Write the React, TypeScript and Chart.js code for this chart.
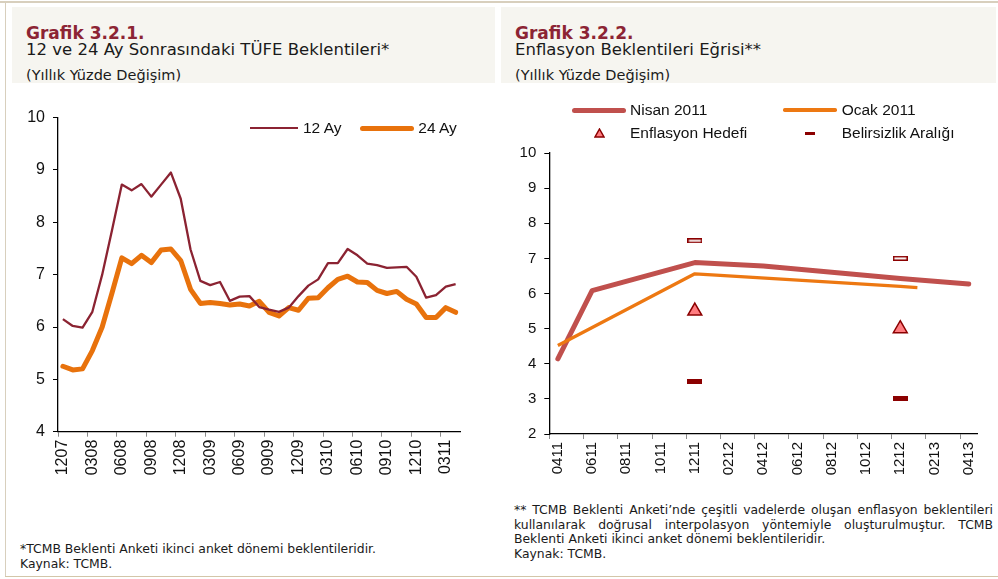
import React, { useEffect, useRef } from "react";
import { Chart, registerables } from "chart.js";
Chart.register(...registerables);

// ---------- Chart 1 data ----------
const months1 = ["1207","0108","0208","0308","0408","0508","0608","0708","0808","0908","1008","1108","1208","0109","0209","0309","0409","0509","0609","0709","0809","0909","1009","1109","1209","0110","0210","0310","0410","0510","0610","0710","0810","0910","1010","1110","1210","0111","0211","0311","0411"];
const ay12 = [6.15,6.02,5.99,6.29,7.0,7.85,8.72,8.61,8.73,8.49,8.72,8.95,8.45,7.48,6.88,6.8,6.86,6.5,6.58,6.59,6.38,6.33,6.29,6.37,6.59,6.79,6.91,7.22,7.22,7.49,7.37,7.21,7.18,7.13,7.14,7.15,6.96,6.56,6.61,6.77,6.82];
const ay24 = [5.25,5.18,5.2,5.55,6.0,6.65,7.32,7.21,7.37,7.23,7.47,7.49,7.27,6.72,6.45,6.47,6.45,6.42,6.44,6.4,6.49,6.28,6.21,6.37,6.32,6.55,6.56,6.75,6.91,6.97,6.86,6.85,6.7,6.64,6.68,6.53,6.44,6.18,6.18,6.37,6.28];

// ---------- Chart 2 data ----------
const months2 = ["0411","0511","0611","0711","0811","0911","1011","1111","1211","0112","0212","0312","0412","0512","0612","0712","0812","0912","1012","1112","1212","0113","0213","0313","0413"];
const nisan2011 = [4.14,null,6.08,null,null,null,null,null,6.88,null,null,null,6.78,null,null,null,null,null,null,null,6.43,null,null,null,6.27];
const ocak2011 = [4.52,null,null,null,null,null,null,null,6.56,6.53,null,null,null,null,null,null,null,null,null,null,6.2,6.17,null,null,null];
const hedef = [null,null,null,null,null,null,null,null,5.5,null,null,null,null,null,null,null,null,null,null,null,5.0,null,null,null,null];
const belirsizUst = [null,null,null,null,null,null,null,null,7.5,null,null,null,null,null,null,null,null,null,null,null,7.0,null,null,null,null];
const belirsizAlt = [null,null,null,null,null,null,null,null,3.5,null,null,null,null,null,null,null,null,null,null,null,3.0,null,null,null,null];

const C12 = "#8b2332";
const C24 = "#e8720c";
const CNISAN = "#c0504d";
const COCAK = "#ed7812";
const DARK = "#8b0000";
const TRI = "#ff7c80";
const FONT = "'Liberation Sans', Arial, sans-serif";
const GOTHIC = "'DejaVu Sans', sans-serif";

function makeDash(hollow: boolean) {
  const c = document.createElement("canvas");
  c.width = 15;
  c.height = 5;
  const g = c.getContext("2d")!;
  g.fillStyle = DARK;
  g.fillRect(0, 0, 15, 5);
  if (hollow) {
    g.fillStyle = "#ffffff";
    g.fillRect(1.5, 1.5, 12, 2);
  }
  return c;
}

function LeftChart() {
  const ref = useRef<HTMLCanvasElement>(null);
  useEffect(() => {
    const chart = new Chart(ref.current!, {
      type: "line",
      data: {
        labels: months1,
        datasets: [
          { label: "12 Ay", data: ay12, borderColor: C12, borderWidth: 2.3, pointRadius: 0, tension: 0, borderJoinStyle: "round", order: 0 },
          { label: "24 Ay", data: ay24, borderColor: C24, borderWidth: 5, pointRadius: 0, tension: 0, borderJoinStyle: "round", borderCapStyle: "round", order: 1 },
        ],
      },
      options: {
        responsive: false,
        animation: false,
        devicePixelRatio: 1,
        events: [],
        layout: { padding: { left: 10, right: 14, top: 15.7, bottom: 8.3 } },
        plugins: { legend: { display: false }, tooltip: { enabled: false } },
        scales: {
          x: {
            type: "category",
            offset: true,
            afterFit: (s: any) => { s.height = 45; },
            grid: {
              offset: true,
              drawOnChartArea: false,
              tickLength: 5,
              color: (ctx: any) => (ctx.index % 3 === 0 ? "#8a8a8a" : "rgba(0,0,0,0)"),
            },
            border: { color: "#000", width: 1.3 },
            ticks: {
              autoSkip: false,
              maxRotation: 90,
              minRotation: 90,
              padding: 3,
              color: "#111",
              font: { family: FONT, size: 16 },
              callback: (_v: any, i: number) => (i % 3 === 0 ? months1[i] : ""),
            },
          },
          y: {
            min: 4,
            max: 10,
            afterFit: (s: any) => { s.width = 40; },
            grid: { drawOnChartArea: false, tickLength: 5, color: "#000" },
            border: { color: "#000", width: 1.3 },
            ticks: { stepSize: 1, padding: 8, color: "#111", font: { family: FONT, size: 16 } },
          },
        },
      } as any,
    });
    return () => chart.destroy();
  }, []);
  return <canvas ref={ref} width={470} height={385} style={{ position: "absolute", left: 8, top: 100, width: 470, height: 385 }} />;
}

function RightChart() {
  const ref = useRef<HTMLCanvasElement>(null);
  useEffect(() => {
    const dashFull = makeDash(false);
    const dashHollow = makeDash(true);
    const chart = new Chart(ref.current!, {
      type: "line",
      data: {
        labels: months2,
        datasets: [
          { label: "Nisan 2011", data: nisan2011, borderColor: CNISAN, borderWidth: 5, pointRadius: 0, tension: 0, spanGaps: true, borderJoinStyle: "round", borderCapStyle: "round", order: 3 },
          { label: "Ocak 2011", data: ocak2011, borderColor: COCAK, borderWidth: 3.3, pointRadius: 0, tension: 0, spanGaps: true, borderJoinStyle: "round", order: 2 },
          { label: "Enflasyon Hedefi", data: hedef, showLine: false, pointStyle: "triangle", pointRadius: 8, backgroundColor: TRI, borderColor: DARK, pointBorderWidth: 1.5, order: 0 },
          { label: "Belirsizlik Aralığı", data: belirsizAlt, showLine: false, pointStyle: dashFull, pointRadius: 6, order: 0 },
          { label: "Belirsizlik Aralığı üst", data: belirsizUst, showLine: false, pointStyle: dashHollow, pointRadius: 6, order: 0 },
        ],
      },
      options: {
        responsive: false,
        animation: false,
        devicePixelRatio: 1,
        events: [],
        layout: { padding: { left: 9.3, right: 17.7, top: 15.7, bottom: 1 } },
        plugins: { legend: { display: false }, tooltip: { enabled: false } },
        scales: {
          x: {
            type: "category",
            offset: true,
            afterFit: (s: any) => { s.height = 45; },
            grid: {
              offset: true,
              drawOnChartArea: false,
              tickLength: 5,
              color: (ctx: any) => (ctx.index % 2 === 0 ? "#8a8a8a" : "rgba(0,0,0,0)"),
            },
            border: { color: "#000", width: 1.3 },
            ticks: {
              autoSkip: false,
              maxRotation: 90,
              minRotation: 90,
              padding: 3,
              color: "#111",
              font: { family: FONT, size: 15 },
              callback: (_v: any, i: number) => (i % 2 === 0 ? months2[i] : ""),
            },
          },
          y: {
            min: 2,
            max: 10,
            afterFit: (s: any) => { s.width = 35; },
            grid: { drawOnChartArea: false, tickLength: 5, color: "#000" },
            border: { color: "#000", width: 1.3 },
            ticks: { stepSize: 1, padding: 8, color: "#111", font: { family: FONT, size: 15 } },
          },
        },
      } as any,
    });
    return () => chart.destroy();
  }, []);
  return <canvas ref={ref} width={490} height={344} style={{ position: "absolute", left: 505, top: 136, width: 490, height: 344 }} />;
}

const abs = (l: number, t: number, extra: React.CSSProperties = {}): React.CSSProperties => ({
  position: "absolute",
  left: l,
  top: t,
  whiteSpace: "nowrap",
  ...extra,
});

function Header({ x, title, sub }: { x: number; title: string; sub: string }) {
  return (
    <>
      <div style={abs(x, 24.8, { fontFamily: GOTHIC, fontWeight: "bold", fontSize: 17, lineHeight: "17px", color: "#8c2434" })}>{title}</div>
      <div style={abs(x, 42.3, { fontFamily: GOTHIC, fontSize: 16.5, lineHeight: "16.5px", color: "#1a1a1a" })}>{sub}</div>
      <div style={abs(x, 68.2, { fontFamily: GOTHIC, fontSize: 14.5, lineHeight: "14.5px", color: "#1a1a1a" })}>(Yıllık Yüzde Değişim)</div>
    </>
  );
}

function JustLine({ text, left, top, width }: { text: string; left: number; top: number; width: number }) {
  const words = text.split(" ");
  return (
    <div style={{ position: "absolute", left, top, width, display: "flex", justifyContent: "space-between", whiteSpace: "nowrap" }}>
      {words.map((w, i) => (
        <span key={i}>{w}</span>
      ))}
    </div>
  );
}

const legText: React.CSSProperties = { fontFamily: FONT, fontSize: 15.5, lineHeight: "18px", color: "#111" };

export default function App() {
  const noteStyle: React.CSSProperties = { fontFamily: GOTHIC, fontSize: 12.4, lineHeight: "12.4px", color: "#1a1a1a" };
  return (
    <div style={{ position: "fixed", left: 0, top: 0, width: 998, height: 579, background: "#fff", overflow: "hidden" }}>
      {/* frame */}
      <div style={{ position: "absolute", left: 0, top: 1, width: 998, height: 1.5, background: "#d8cfbd" }} />
      <div style={{ position: "absolute", left: 4.5, top: 1, width: 1.5, height: 576, background: "#d8cfbd" }} />
      <div style={{ position: "absolute", left: 4.5, top: 575.5, width: 994, height: 1.5, background: "#d3c6a8" }} />
      {/* header backgrounds */}
      <div style={{ position: "absolute", left: 12, top: 7, width: 483, height: 76, background: "#f6f5f0" }} />
      <div style={{ position: "absolute", left: 501, top: 7, width: 495, height: 76, background: "#f6f5f0" }} />
      <Header x={26} title="Grafik 3.2.1." sub="12 ve 24 Ay Sonrasındaki TÜFE Beklentileri*" />
      <Header x={515} title="Grafik 3.2.2." sub="Enflasyon Beklentileri Eğrisi**" />

      <LeftChart />
      <RightChart />

      {/* left legend */}
      <div style={{ position: "absolute", left: 250, top: 127.2, width: 48, height: 2.3, background: C12 }} />
      <div style={abs(303, 119.3, legText)}>12 Ay</div>
      <div style={{ position: "absolute", left: 360, top: 125.8, width: 54, height: 5, borderRadius: 2.5, background: C24 }} />
      <div style={abs(418.3, 119.3, legText)}>24 Ay</div>

      {/* right legend */}
      <div style={{ position: "absolute", left: 571.7, top: 107.5, width: 54.3, height: 5, borderRadius: 2.5, background: CNISAN }} />
      <div style={abs(630, 101, legText)}>Nisan 2011</div>
      <div style={{ position: "absolute", left: 783.3, top: 108.3, width: 53.4, height: 3.4, borderRadius: 1.7, background: COCAK }} />
      <div style={abs(841.7, 101, legText)}>Ocak 2011</div>
      <svg style={{ position: "absolute", left: 594, top: 128 }} width={11} height={10}>
        <polygon points="5.5,1 10,9 1,9" fill={TRI} stroke={DARK} strokeWidth={1.5} />
      </svg>
      <div style={abs(630, 124.3, legText)}>Enflasyon Hedefi</div>
      <div style={{ position: "absolute", left: 805, top: 131.5, width: 10, height: 3.5, background: DARK }} />
      <div style={abs(841.7, 124.3, legText)}>Belirsizlik Aralığı</div>

      {/* left footnote */}
      <div style={abs(20, 543, noteStyle)}>*TCMB Beklenti Anketi ikinci anket dönemi beklentileridir.</div>
      <div style={abs(20, 557.5, noteStyle)}>Kaynak: TCMB.</div>

      {/* right footnote */}
      <div style={noteStyle}>
        <JustLine left={514} top={504} width={479} text="** TCMB Beklenti Anketi’nde çeşitli vadelerde oluşan enflasyon beklentileri" />
        <JustLine left={514} top={518.5} width={479} text="kullanılarak doğrusal interpolasyon yöntemiyle oluşturulmuştur. TCMB" />
        <div style={abs(514, 533)}>Beklenti Anketi ikinci anket dönemi beklentileridir.</div>
        <div style={abs(514, 547.5)}>Kaynak: TCMB.</div>
      </div>
    </div>
  );
}
